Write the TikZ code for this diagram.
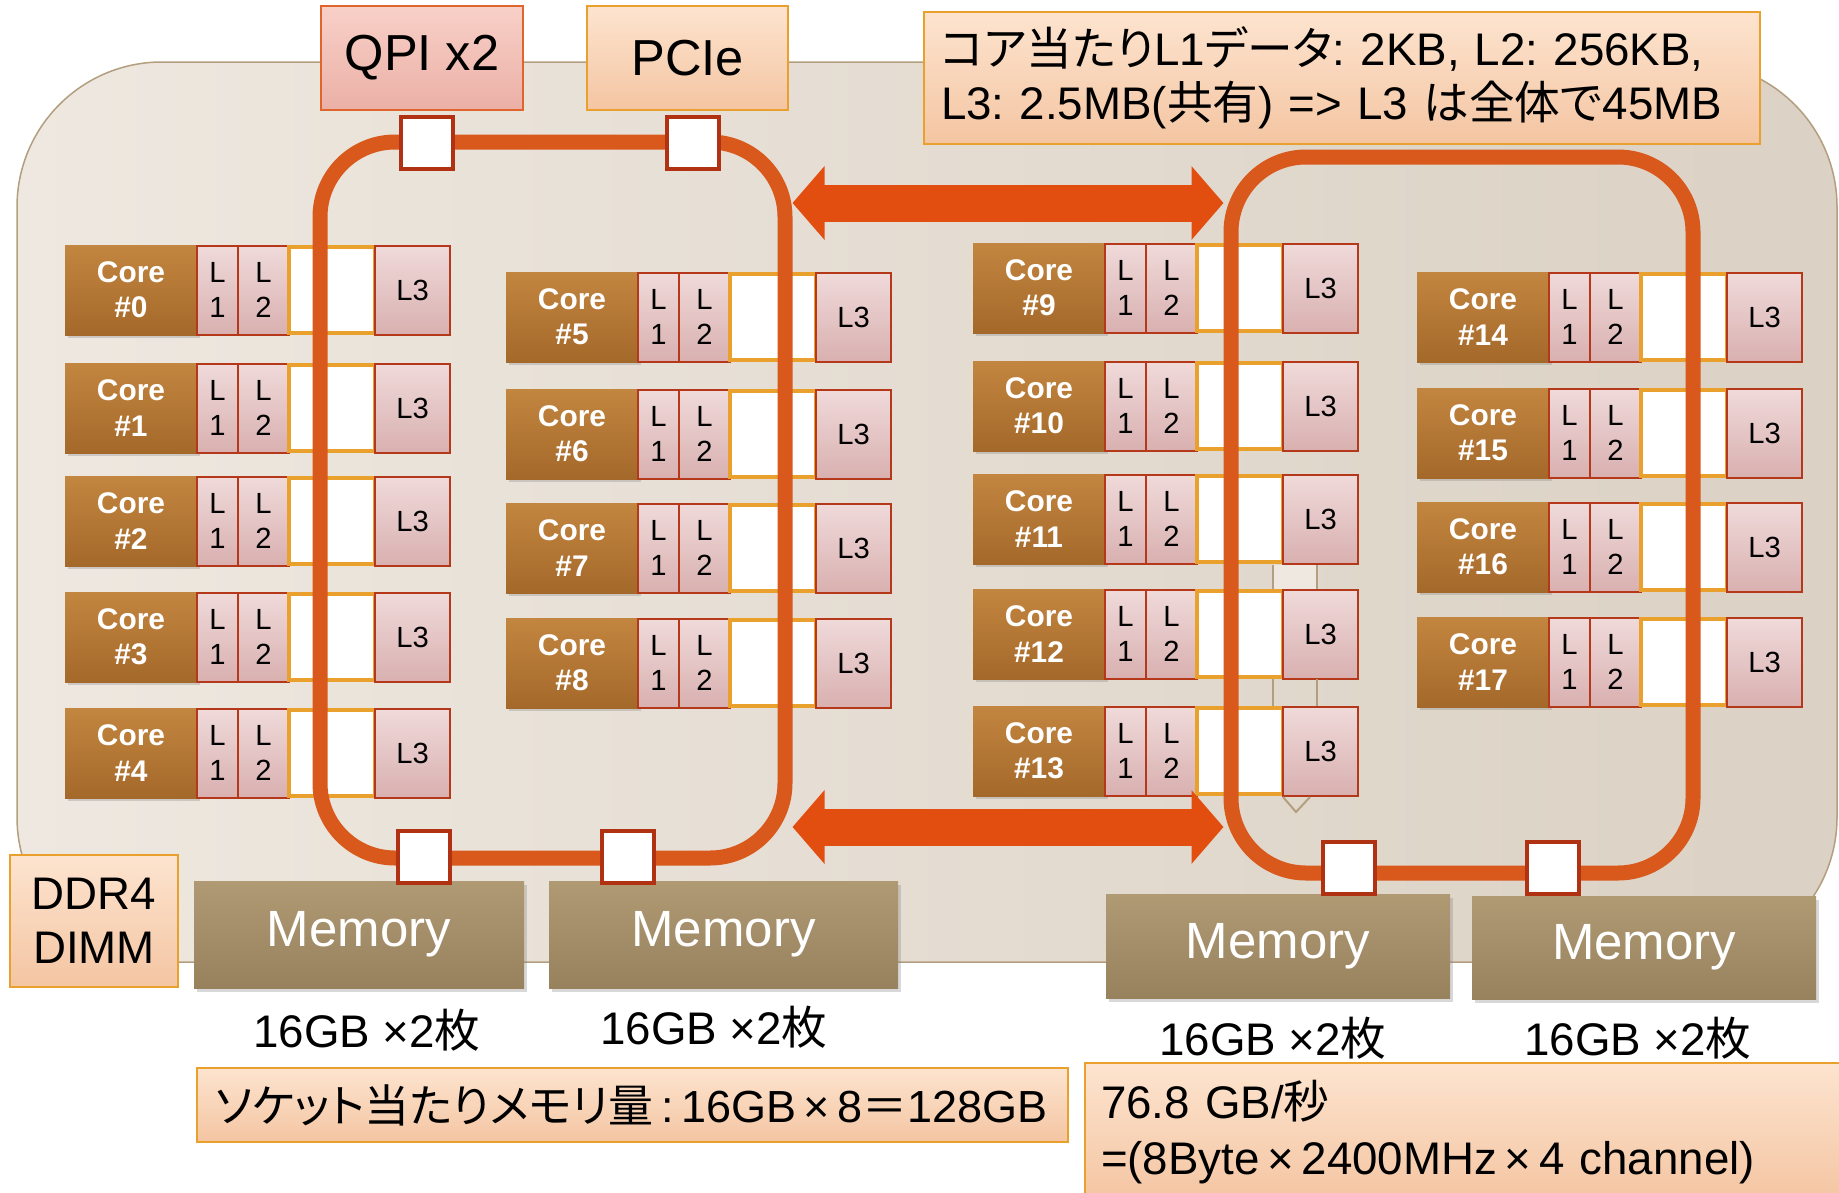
\documentclass[tikz,border=0pt]{standalone}
\usepackage{fontspec}
\setmainfont{Liberation Sans}
\newfontfamily\jp[RawFeature=+palt]{Noto Sans CJK JP}
\frenchspacing
\usetikzlibrary{positioning,arrows.meta,shadows}

\definecolor{bgA}{HTML}{EEE8E0}
\definecolor{bgB}{HTML}{DBD1C4}
\definecolor{bgline}{HTML}{B39F80}
\definecolor{coreA}{HTML}{C38640}
\definecolor{coreB}{HTML}{A4682A}
\definecolor{cacheA}{HTML}{F0DADA}
\definecolor{cacheB}{HTML}{D9B0B0}
\definecolor{cacheline}{HTML}{B5381A}
\definecolor{busline}{HTML}{E9A02C}
\definecolor{ringcol}{HTML}{D9581C}
\definecolor{linkcol}{HTML}{E24E10}
\definecolor{stopline}{HTML}{B03212}
\definecolor{qpiA}{HTML}{F8D0C8}
\definecolor{qpiB}{HTML}{EBB0A6}
\definecolor{qpiline}{HTML}{E0652C}
\definecolor{peachA}{HTML}{FDE4CF}
\definecolor{peachB}{HTML}{F4C5A2}
\definecolor{memA}{HTML}{B09A74}
\definecolor{memB}{HTML}{98825E}

\tikzstyle{corebox}   = [anchor=north west, top color=coreA, bottom color=coreB, minimum width=1.32cm, minimum height=0.90cm, inner sep=0pt, outer sep=0pt, align=center, text=white, font=\fontsize{8.5}{10}\selectfont\bfseries, drop shadow={shadow xshift=0.03cm, shadow yshift=-0.03cm, opacity=0.3}]
\tikzstyle{cachebox}  = [draw=cacheline, line width=0.02cm, top color=cacheA, bottom color=cacheB, minimum height=0.89cm, inner sep=0pt, outer sep=0pt, align=center, font=\fontsize{8.3}{10}\selectfont]
\tikzstyle{busbox}    = [draw=busline, line width=0.04cm, fill=white, minimum width=0.86cm, minimum height=0.86cm, inner sep=0pt, outer sep=0pt]
\tikzstyle{ringbox}   = [draw=ringcol, line width=0.15cm, rounded corners=0.75cm, inner sep=0pt]
\tikzstyle{stopbox}   = [draw=stopline, line width=0.04cm, fill=white, minimum size=0.52cm, inner sep=0pt]
\tikzstyle{qpibox}    = [draw=qpiline, line width=0.02cm, top color=qpiA, bottom color=qpiB, inner sep=0pt, font=\fontsize{14.4}{16}\selectfont]
\tikzstyle{notebox}   = [draw=busline, line width=0.02cm, top color=peachA, bottom color=peachB, inner sep=0pt]
\tikzstyle{membox}    = [top color=memA, bottom color=memB, text=white, inner sep=0pt, font=\fontsize{14.5}{16}\selectfont, drop shadow={shadow xshift=0.03cm, shadow yshift=-0.04cm, opacity=0.3}]
\tikzstyle{sizelabel} = [font=\fontsize{13}{15}\selectfont]
\tikzstyle{linkarrow} = [linkcol, line width=0.37cm, {Triangle[length=0.32cm,width=0.72cm]}-{Triangle[length=0.32cm,width=0.72cm]}]
\tikzstyle{ghostline} = [bgline, line width=0.02cm]

% one core with its L1, L2, ring stop and L3 slice
\newcommand{\corerow}[3]{%
  \node[corebox] (core#1) at (#2,#3) {Core\\\##1};
  \node[cachebox, minimum width=0.41cm, right=0pt of core#1] (core#1l1) {L\\1};
  \node[cachebox, minimum width=0.51cm, right=0pt of core#1l1] (core#1l2) {L\\2};
  \node[busbox, right=0pt of core#1l2] (core#1bus) {};
  \node[cachebox, minimum width=0.75cm, right=0pt of core#1bus] (core#1l3) {L3};
}

\begin{document}
\begin{tikzpicture}[x=1cm,y=-1cm]
	\clip (0,0) rectangle (18.39,11.92);
	\fill[white] (0,0) rectangle (18.39,11.92);

	% socket
	\draw[bgline, line width=0.015cm, rounded corners=1.45cm, left color=bgA, right color=bgB] (0.17,0.62) rectangle (18.37,9.62);

	% memory
	\node[membox, minimum width=3.30cm, minimum height=1.07cm] (memA1) at (3.59,9.345) {Memory};
	\node[membox, minimum width=3.49cm, minimum height=1.07cm] (memA2) at (7.235,9.345) {Memory};
	\node[membox, minimum width=3.44cm, minimum height=1.04cm] (memB1) at (12.78,9.46) {Memory};
	\node[membox, minimum width=3.44cm, minimum height=1.03cm] (memB2) at (16.44,9.475) {Memory};

	\node[sizelabel] (sizeA1) at (3.67,10.30) {16GB ×2{\jp 枚}};
	\node[sizelabel] (sizeA2) at (7.14,10.27) {16GB ×2{\jp 枚}};
	\node[sizelabel] (sizeB1) at (12.73,10.38) {16GB ×2{\jp 枚}};
	\node[sizelabel] (sizeB2) at (16.38,10.38) {16GB ×2{\jp 枚}};

	% cores
	\corerow{0}{0.65}{2.45}
	\corerow{1}{0.65}{3.63}
	\corerow{2}{0.65}{4.76}
	\corerow{3}{0.65}{5.92}
	\corerow{4}{0.65}{7.08}

	\corerow{5}{5.06}{2.72}
	\corerow{6}{5.06}{3.89}
	\corerow{7}{5.06}{5.03}
	\corerow{8}{5.06}{6.18}

	\corerow{9}{9.73}{2.43}
	\corerow{10}{9.73}{3.61}
	\corerow{11}{9.73}{4.74}
	\corerow{12}{9.73}{5.89}
	\corerow{13}{9.73}{7.06}

	\corerow{14}{14.17}{2.72}
	\corerow{15}{14.17}{3.88}
	\corerow{16}{14.17}{5.02}
	\corerow{17}{14.17}{6.17}

	\fill[bgA] (12.74,5.65) rectangle (13.16,5.89);
	\draw[ghostline] (12.73,5.65) -- (12.73,5.89) (13.17,5.65) -- (13.17,5.89);
	\draw[ghostline] (12.73,6.79) -- (12.73,7.06) (13.17,6.79) -- (13.17,7.06);
	\draw[ghostline] (12.83,7.97) -- (12.96,8.12) -- (13.10,7.97);

	% rings
	\node[ringbox, minimum width=4.65cm, minimum height=7.16cm] (ringA) at (5.525,5.00) {};
	\node[ringbox, minimum width=4.62cm, minimum height=7.16cm] (ringB) at (14.62,5.15) {};

	\node[stopbox] (qpistop) at (4.27,1.43) {};
	\node[stopbox] (pciestop) at (6.93,1.43) {};
	\node[stopbox] (memstopA1) at (4.24,8.565) {};
	\node[stopbox] (memstopA2) at (6.28,8.565) {};
	\node[stopbox] (memstopB1) at (13.485,8.675) {};
	\node[stopbox] (memstopB2) at (15.53,8.675) {};

	% QPI links
	\draw[linkarrow] (ringA.east |- 0,2.03) -- (ringB.west |- 0,2.03);
	\draw[linkarrow] (ringA.east |- 0,8.27) -- (ringB.west |- 0,8.27);

	% I/O
	\node[qpibox, minimum width=2.02cm, minimum height=1.04cm] (qpi) at (4.22,0.58) {QPI x2};
	\node[notebox, minimum width=2.01cm, minimum height=1.04cm, font=\fontsize{14.4}{16}\selectfont] (pcie) at (6.875,0.58) {PCIe};

	% notes
	\node[notebox, anchor=north west, text width=8.02cm, inner xsep=0.17cm, minimum height=1.32cm, align=left, font=\fontsize{13}{15.4}\selectfont] (cachenote) at (9.23,0.11) {{\jp コア当たり}L1{\jp データ}: 2KB, L2: 256KB,\\L3: 2.5MB({\jp 共有}) => L3 {\jp は全体で}45MB};
	\node[notebox, anchor=north west, minimum width=1.68cm, minimum height=1.32cm, align=center, font=\fontsize{13}{15.4}\selectfont] (ddr) at (0.09,8.54) {DDR4\\DIMM};
	\node[notebox, anchor=north west, text width=8.35cm, inner xsep=0.18cm, minimum height=0.74cm, align=left, font=\fontsize{12.8}{15}\selectfont] (socketnote) at (1.96,10.67) {{\jp ソケット当たりメモリ量}\,:\,16GB\,×\,8{\jp ＝}128GB};
	\node[notebox, anchor=north west, text width=7.6cm, inner xsep=0.16cm, minimum height=1.38cm, align=left, font=\fontsize{13}{16}\selectfont] (bwnote) at (10.84,10.62) {76.8 GB/{\jp 秒}\\=(8Byte\,×\,2400MHz\,×\,4 channel)};
\end{tikzpicture}
\end{document}
